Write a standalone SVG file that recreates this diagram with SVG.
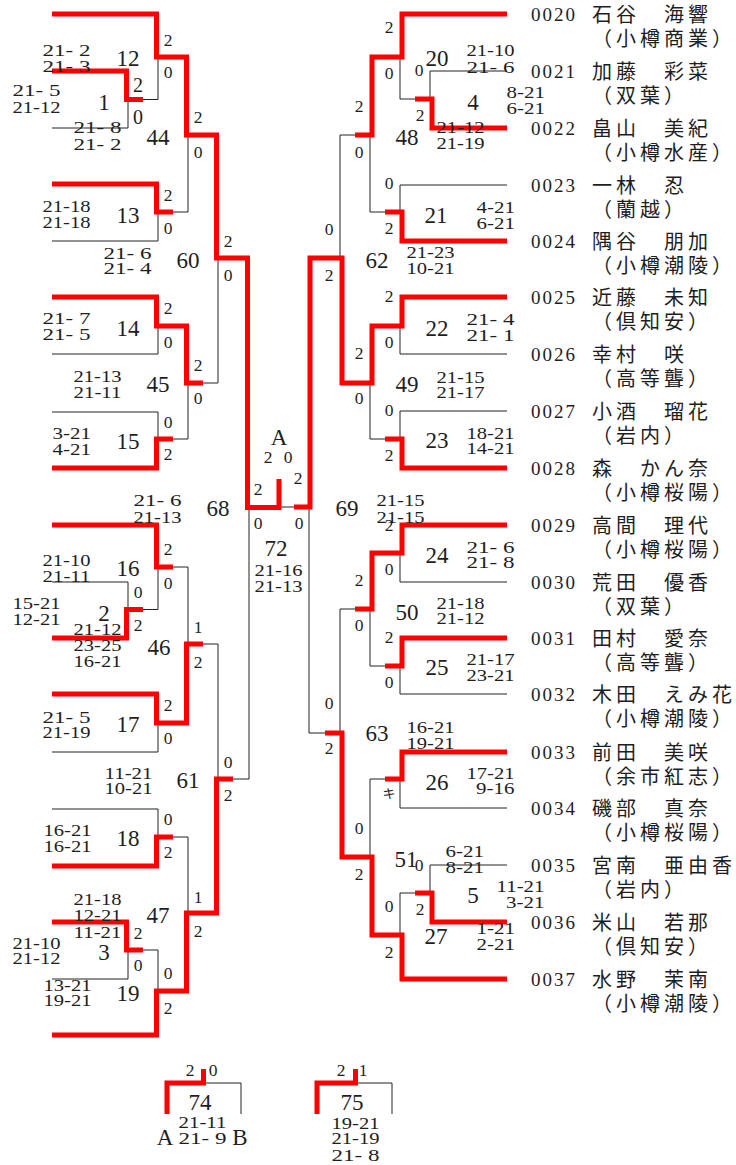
<svg xmlns="http://www.w3.org/2000/svg" width="736" height="1165" viewBox="0 0 736 1165">
<style>
.r{fill:none;stroke:#ff0000;stroke-width:5;stroke-linejoin:miter;stroke-linecap:butt}
.t{fill:none;stroke:#222;stroke-width:1}
text{fill:#1e1e1e}
.s{font-family:"Liberation Serif",serif;font-size:17.5px}
.c{text-anchor:middle}
.b{font-family:"Liberation Serif",serif;font-size:23px;text-anchor:middle}
.m{font-family:"Liberation Serif",serif;font-size:20px;text-anchor:middle}
.id{font-family:"Liberation Serif",serif;font-size:19px;letter-spacing:2px}
.j{font-family:"Noto Sans CJK JP",sans-serif;font-size:20px;letter-spacing:4px}
.k{font-family:"Noto Sans CJK JP",sans-serif;font-size:13px;text-anchor:middle}
</style>
<rect width="736" height="1165" fill="#fff"/>
<g id="connectors">
<path class="t" d="M52,128 H128 V99.5 M143,99.5 H158 V57 M52,241 H158 V212 M173,212 H188 V135 M52,354 H158 V326 M203,383 H218 V258 M52,412 H158 V439 M173,439 H188 V383 M233,779 H249 V507.5 M173,567 H188 V644 M158,567 V609.5 H143 M52,582 H128 V609.5 M203,644 H218 V779 M52,752 H158 V723 M52,809 H158 V837 M173,837 H188 V913 M52,979 H128 V950 M143,950 H158 V991"/>
<path class="t" d="M400,57 V99 H415 M507,71 H430 V99 M355,135 H340 V258 M507,185 H400 V212 M385,212 H370 V135 M507,354 H400 V326 M507,411 H400 V439 M385,439 H370 V383 M294,507 H280 M309,507 V733 H325 M507,582 H400 V553 M355,609 H340 V733 M385,666 H370 V609 M507,694 H400 V666 M507,808 H400 V779 M385,779 H370 V857 M507,865 H430 V893 M415,893 H400 V935"/>
<path class="t" d="M203.5,1083 H241 V1114 M355.5,1083 H392 V1114"/>
<path class="r" d="M52,14 H156.5 V57 H186.5 V135 H216.5 V258 H247.5 V507.5 H279 V479"/>
<path class="r" d="M52,71 H126.5 V99.5 H143"/>
<path class="r" d="M52,184 H156.5 V212 H173"/>
<path class="r" d="M52,297 H156.5 V326 H186.5 V383 H203"/>
<path class="r" d="M52,468 H156.5 V439 H173"/>
<path class="r" d="M52,525 H156.5 V567 H173"/>
<path class="r" d="M52,638 H126.5 V609.5 H143"/>
<path class="r" d="M203,644 H186.5 V723 H156.5 V694 H52"/>
<path class="r" d="M52,1035 H156.5 V991 H186.5 V913 H216.5 V779 H233"/>
<path class="r" d="M52,866 H156.5 V837 H173"/>
<path class="r" d="M52,922 H126.5 V950 H143"/>
<path class="r" d="M507,14 H402 V57 H372 V135 H355"/>
<path class="r" d="M507,128 H432 V99 H415"/>
<path class="r" d="M507,241 H402 V212 H385"/>
<path class="r" d="M507,297 H402 V326 H372 V383 H342 V258 H310 V507 H294"/>
<path class="r" d="M507,468 H402 V439 H385"/>
<path class="r" d="M507,525 H402 V553 H372 V609 H355"/>
<path class="r" d="M507,638 H402 V666 H385"/>
<path class="r" d="M507,752 H402 V779 H385"/>
<path class="r" d="M507,922 H432 V893 H415"/>
<path class="r" d="M507,979 H402 V935 H372 V857 H342 V733 H325"/>
<path class="r" d="M167,1114 V1083 H203.5 V1069"/>
<path class="r" d="M317,1114 V1083 H355.5 V1069"/>
</g>

<g id="m12"><text class="b" x="128" y="66">12</text><text class="s c" x="168" y="46">2</text><text class="s c" x="168" y="78">0</text><text class="s" x="42.5" y="56" textLength="48" lengthAdjust="spacingAndGlyphs">21- 2</text><text class="s" x="42.5" y="72" textLength="48" lengthAdjust="spacingAndGlyphs">21- 3</text></g>
<g id="m1"><text class="b" x="104" y="110">1</text><text class="m" x="138" y="92">2</text><text class="m" x="138" y="124">0</text><text class="s" x="12.5" y="96" textLength="48" lengthAdjust="spacingAndGlyphs">21- 5</text><text class="s" x="12.5" y="113" textLength="48" lengthAdjust="spacingAndGlyphs">21-12</text></g>
<g id="m44"><text class="b" x="158" y="145">44</text><text class="s c" x="198" y="123">2</text><text class="s c" x="198" y="158">0</text><text class="s" x="73.5" y="133" textLength="48" lengthAdjust="spacingAndGlyphs">21- 8</text><text class="s" x="73.5" y="150" textLength="48" lengthAdjust="spacingAndGlyphs">21- 2</text></g>
<g id="m13"><text class="b" x="128" y="223">13</text><text class="s c" x="168" y="201">2</text><text class="s c" x="168" y="234">0</text><text class="s" x="42.5" y="212" textLength="48" lengthAdjust="spacingAndGlyphs">21-18</text><text class="s" x="42.5" y="228" textLength="48" lengthAdjust="spacingAndGlyphs">21-18</text></g>
<g id="m60"><text class="b" x="188" y="268">60</text><text class="s c" x="228" y="247">2</text><text class="s c" x="228" y="281">0</text><text class="s" x="103.5" y="259" textLength="48" lengthAdjust="spacingAndGlyphs">21- 6</text><text class="s" x="103.5" y="274" textLength="48" lengthAdjust="spacingAndGlyphs">21- 4</text></g>
<g id="m14"><text class="b" x="128" y="336">14</text><text class="s c" x="168" y="314">2</text><text class="s c" x="168" y="348">0</text><text class="s" x="42.5" y="324" textLength="48" lengthAdjust="spacingAndGlyphs">21- 7</text><text class="s" x="42.5" y="340" textLength="48" lengthAdjust="spacingAndGlyphs">21- 5</text></g>
<g id="m45"><text class="b" x="158" y="392">45</text><text class="s c" x="198" y="371">2</text><text class="s c" x="198" y="404">0</text><text class="s" x="73.5" y="382" textLength="48" lengthAdjust="spacingAndGlyphs">21-13</text><text class="s" x="73.5" y="398" textLength="48" lengthAdjust="spacingAndGlyphs">21-11</text></g>
<g id="m15"><text class="b" x="128" y="449">15</text><text class="s c" x="168" y="428">0</text><text class="s c" x="168" y="460">2</text><text class="s" x="52.5" y="439" textLength="38.4" lengthAdjust="spacingAndGlyphs">3-21</text><text class="s" x="52.5" y="455" textLength="38.4" lengthAdjust="spacingAndGlyphs">4-21</text></g>
<g id="m68"><text class="b" x="218" y="516">68</text><text class="s c" x="258" y="495">2</text><text class="s c" x="258" y="529">0</text><text class="s" x="133.5" y="506" textLength="48" lengthAdjust="spacingAndGlyphs">21- 6</text><text class="s" x="133.5" y="523" textLength="48" lengthAdjust="spacingAndGlyphs">21-13</text></g>
<g id="m16"><text class="b" x="128" y="576">16</text><text class="s c" x="168" y="555">2</text><text class="s c" x="168" y="589">0</text><text class="s" x="42.5" y="566" textLength="48" lengthAdjust="spacingAndGlyphs">21-10</text><text class="s" x="42.5" y="582" textLength="48" lengthAdjust="spacingAndGlyphs">21-11</text></g>
<g id="m2"><text class="b" x="104" y="621">2</text><text class="s c" x="138" y="598">0</text><text class="s c" x="138" y="631">2</text><text class="s" x="12.5" y="609" textLength="48" lengthAdjust="spacingAndGlyphs">15-21</text><text class="s" x="12.5" y="625" textLength="48" lengthAdjust="spacingAndGlyphs">12-21</text></g>
<g id="m46"><text class="b" x="159" y="655">46</text><text class="s c" x="198" y="633">1</text><text class="s c" x="198" y="668">2</text><text class="s" x="73.5" y="635" textLength="48" lengthAdjust="spacingAndGlyphs">21-12</text><text class="s" x="73.5" y="651" textLength="48" lengthAdjust="spacingAndGlyphs">23-25</text><text class="s" x="73.5" y="667" textLength="48" lengthAdjust="spacingAndGlyphs">16-21</text></g>
<g id="m17"><text class="b" x="128" y="732">17</text><text class="s c" x="168" y="711">2</text><text class="s c" x="168" y="744">0</text><text class="s" x="42.5" y="723" textLength="48" lengthAdjust="spacingAndGlyphs">21- 5</text><text class="s" x="42.5" y="738" textLength="48" lengthAdjust="spacingAndGlyphs">21-19</text></g>
<g id="m61"><text class="b" x="188" y="788">61</text><text class="s c" x="228" y="768">0</text><text class="s c" x="228" y="801">2</text><text class="s" x="104.5" y="779" textLength="48" lengthAdjust="spacingAndGlyphs">11-21</text><text class="s" x="104.5" y="794" textLength="48" lengthAdjust="spacingAndGlyphs">10-21</text></g>
<g id="m18"><text class="b" x="128" y="846">18</text><text class="s c" x="168" y="825">0</text><text class="s c" x="168" y="858">2</text><text class="s" x="43.5" y="836" textLength="48" lengthAdjust="spacingAndGlyphs">16-21</text><text class="s" x="43.5" y="852" textLength="48" lengthAdjust="spacingAndGlyphs">16-21</text></g>
<g id="m47"><text class="b" x="158" y="923">47</text><text class="s c" x="198" y="903">1</text><text class="s c" x="198" y="937">2</text><text class="s" x="73.5" y="905" textLength="48" lengthAdjust="spacingAndGlyphs">21-18</text><text class="s" x="73.5" y="921" textLength="48" lengthAdjust="spacingAndGlyphs">12-21</text><text class="s" x="73.5" y="938" textLength="48" lengthAdjust="spacingAndGlyphs">11-21</text></g>
<g id="m3"><text class="b" x="104" y="960">3</text><text class="s c" x="138" y="939">2</text><text class="s c" x="138" y="971">0</text><text class="s" x="12.5" y="949" textLength="48" lengthAdjust="spacingAndGlyphs">21-10</text><text class="s" x="12.5" y="964" textLength="48" lengthAdjust="spacingAndGlyphs">21-12</text></g>
<g id="m19"><text class="b" x="128" y="1001">19</text><text class="s c" x="168" y="979">0</text><text class="s c" x="168" y="1014">2</text><text class="s" x="43.5" y="991" textLength="48" lengthAdjust="spacingAndGlyphs">13-21</text><text class="s" x="43.5" y="1006" textLength="48" lengthAdjust="spacingAndGlyphs">19-21</text></g>

<g id="m72"><text class="b" x="279" y="445">A</text><text class="s c" x="268" y="463">2</text><text class="s c" x="288" y="463">0</text><text class="b" x="276" y="556">72</text><text class="s" x="254.5" y="576" textLength="48" lengthAdjust="spacingAndGlyphs">21-16</text><text class="s" x="254.5" y="592" textLength="48" lengthAdjust="spacingAndGlyphs">21-13</text></g>

<g id="m20"><text class="b" x="437" y="66">20</text><text class="s c" x="389" y="33">2</text><text class="s c" x="389" y="79">0</text><text class="s" x="466.5" y="56" textLength="48" lengthAdjust="spacingAndGlyphs">21-10</text><text class="s" x="466.5" y="73" textLength="48" lengthAdjust="spacingAndGlyphs">21- 6</text></g>
<g id="m4"><text class="b" x="473" y="110">4</text><text class="s c" x="419" y="76">0</text><text class="s c" x="420" y="121">2</text><text class="s" x="506.5" y="98" textLength="38.4" lengthAdjust="spacingAndGlyphs">8-21</text><text class="s" x="506.5" y="114" textLength="38.4" lengthAdjust="spacingAndGlyphs">6-21</text></g>
<g id="m48"><text class="b" x="407" y="145">48</text><text class="s c" x="359" y="112">2</text><text class="s c" x="359" y="158">0</text><text class="s" x="436.5" y="133" textLength="48" lengthAdjust="spacingAndGlyphs">21-12</text><text class="s" x="436.5" y="149" textLength="48" lengthAdjust="spacingAndGlyphs">21-19</text></g>
<g id="m21"><text class="b" x="436" y="223">21</text><text class="s c" x="389" y="189">0</text><text class="s c" x="389" y="234">2</text><text class="s" x="476.5" y="213" textLength="38.4" lengthAdjust="spacingAndGlyphs">4-21</text><text class="s" x="476.5" y="229" textLength="38.4" lengthAdjust="spacingAndGlyphs">6-21</text></g>
<g id="m62"><text class="b" x="377" y="268">62</text><text class="s c" x="329" y="235">0</text><text class="s c" x="329" y="281">2</text><text class="s" x="406.5" y="258" textLength="48" lengthAdjust="spacingAndGlyphs">21-23</text><text class="s" x="406.5" y="274" textLength="48" lengthAdjust="spacingAndGlyphs">10-21</text></g>
<g id="m22"><text class="b" x="437" y="336">22</text><text class="s c" x="389" y="302">2</text><text class="s c" x="389" y="348">0</text><text class="s" x="466.5" y="325" textLength="48" lengthAdjust="spacingAndGlyphs">21- 4</text><text class="s" x="466.5" y="341" textLength="48" lengthAdjust="spacingAndGlyphs">21- 1</text></g>
<g id="m49"><text class="b" x="407" y="392">49</text><text class="s c" x="359" y="359">2</text><text class="s c" x="359" y="404">0</text><text class="s" x="436.5" y="383" textLength="48" lengthAdjust="spacingAndGlyphs">21-15</text><text class="s" x="436.5" y="398" textLength="48" lengthAdjust="spacingAndGlyphs">21-17</text></g>
<g id="m23"><text class="b" x="437" y="448">23</text><text class="s c" x="389" y="416">0</text><text class="s c" x="389" y="461">2</text><text class="s" x="466.5" y="439" textLength="48" lengthAdjust="spacingAndGlyphs">18-21</text><text class="s" x="466.5" y="454" textLength="48" lengthAdjust="spacingAndGlyphs">14-21</text></g>
<g id="m69"><text class="b" x="347" y="516">69</text><text class="s c" x="298" y="484">2</text><text class="s c" x="299" y="529">0</text><text class="s" x="376.5" y="506" textLength="48" lengthAdjust="spacingAndGlyphs">21-15</text><text class="s" x="376.5" y="523" textLength="48" lengthAdjust="spacingAndGlyphs">21-15</text></g>
<g id="m24"><text class="b" x="437" y="563">24</text><text class="s c" x="389" y="531">2</text><text class="s c" x="389" y="575">0</text><text class="s" x="466.5" y="553" textLength="48" lengthAdjust="spacingAndGlyphs">21- 6</text><text class="s" x="466.5" y="568" textLength="48" lengthAdjust="spacingAndGlyphs">21- 8</text></g>
<g id="m50"><text class="b" x="407" y="620">50</text><text class="s c" x="359" y="586">2</text><text class="s c" x="359" y="631">0</text><text class="s" x="436.5" y="609" textLength="48" lengthAdjust="spacingAndGlyphs">21-18</text><text class="s" x="436.5" y="624" textLength="48" lengthAdjust="spacingAndGlyphs">21-12</text></g>
<g id="m25"><text class="b" x="437" y="675">25</text><text class="s c" x="389" y="643">2</text><text class="s c" x="389" y="688">0</text><text class="s" x="466.5" y="665" textLength="48" lengthAdjust="spacingAndGlyphs">21-17</text><text class="s" x="466.5" y="681" textLength="48" lengthAdjust="spacingAndGlyphs">23-21</text></g>
<g id="m63"><text class="b" x="377" y="741">63</text><text class="s c" x="329" y="709">0</text><text class="s c" x="329" y="754">2</text><text class="s" x="406.5" y="733" textLength="48" lengthAdjust="spacingAndGlyphs">16-21</text><text class="s" x="406.5" y="749" textLength="48" lengthAdjust="spacingAndGlyphs">19-21</text></g>
<g id="m26"><text class="b" x="437" y="790">26</text><text class="k" x="389" y="798">キ</text><text class="s" x="466.5" y="779" textLength="48" lengthAdjust="spacingAndGlyphs">17-21</text><text class="s" x="476.1" y="794" textLength="38.4" lengthAdjust="spacingAndGlyphs">9-16</text></g>
<g id="m51"><text class="b" x="406" y="867">51</text><text class="s c" x="359" y="834">0</text><text class="s c" x="359" y="880">2</text><text class="s" x="445.5" y="857" textLength="38.4" lengthAdjust="spacingAndGlyphs">6-21</text><text class="s" x="445.5" y="873" textLength="38.4" lengthAdjust="spacingAndGlyphs">8-21</text></g>
<g id="m5"><text class="b" x="473" y="903">5</text><text class="s c" x="419" y="871">0</text><text class="s c" x="420" y="915">2</text><text class="s" x="496.5" y="892" textLength="48" lengthAdjust="spacingAndGlyphs">11-21</text><text class="s" x="506.1" y="908" textLength="38.4" lengthAdjust="spacingAndGlyphs">3-21</text></g>
<g id="m27"><text class="b" x="436" y="944">27</text><text class="s c" x="389" y="912">0</text><text class="s c" x="389" y="958">2</text><text class="s" x="476.5" y="934" textLength="38.4" lengthAdjust="spacingAndGlyphs">1-21</text><text class="s" x="476.5" y="950" textLength="38.4" lengthAdjust="spacingAndGlyphs">2-21</text></g>

<g id="m74"><text class="b" x="200" y="1110">74</text><text class="s c" x="190" y="1076">2</text><text class="s c" x="213" y="1076">0</text><text class="s" x="178.5" y="1128" textLength="48" lengthAdjust="spacingAndGlyphs">21-11</text><text class="s" x="178.5" y="1144" textLength="48" lengthAdjust="spacingAndGlyphs">21- 9</text><text class="b" x="165" y="1145">A</text><text class="b" x="240" y="1145">B</text></g>
<g id="m75"><text class="b" x="352" y="1110">75</text><text class="s c" x="341" y="1076">2</text><text class="s c" x="363" y="1076">1</text><text class="s" x="331.5" y="1129" textLength="48" lengthAdjust="spacingAndGlyphs">19-21</text><text class="s" x="331.5" y="1144" textLength="48" lengthAdjust="spacingAndGlyphs">21-19</text><text class="s" x="331.5" y="1161" textLength="48" lengthAdjust="spacingAndGlyphs">21- 8</text></g>

<g id="p0020"><text class="id" x="531" y="21">0020</text><text class="j" x="592" y="22">石谷　海響</text><text class="j" x="592" y="46">（小樽商業）</text></g>
<g id="p0021"><text class="id" x="531" y="78">0021</text><text class="j" x="592" y="79">加藤　彩菜</text><text class="j" x="592" y="103">（双葉）</text></g>
<g id="p0022"><text class="id" x="531" y="135">0022</text><text class="j" x="592" y="136">畠山　美紀</text><text class="j" x="592" y="160">（小樽水産）</text></g>
<g id="p0023"><text class="id" x="531" y="192">0023</text><text class="j" x="592" y="193">一林　忍</text><text class="j" x="592" y="217">（蘭越）</text></g>
<g id="p0024"><text class="id" x="531" y="248">0024</text><text class="j" x="592" y="249">隅谷　朋加</text><text class="j" x="592" y="273">（小樽潮陵）</text></g>
<g id="p0025"><text class="id" x="531" y="304">0025</text><text class="j" x="592" y="305">近藤　未知</text><text class="j" x="592" y="329">（倶知安）</text></g>
<g id="p0026"><text class="id" x="531" y="361">0026</text><text class="j" x="592" y="362">幸村　咲</text><text class="j" x="592" y="386">（高等聾）</text></g>
<g id="p0027"><text class="id" x="531" y="418">0027</text><text class="j" x="592" y="419">小酒　瑠花</text><text class="j" x="592" y="443">（岩内）</text></g>
<g id="p0028"><text class="id" x="531" y="475">0028</text><text class="j" x="592" y="476">森　かん奈</text><text class="j" x="592" y="500">（小樽桜陽）</text></g>
<g id="p0029"><text class="id" x="531" y="532">0029</text><text class="j" x="592" y="533">高間　理代</text><text class="j" x="592" y="557">（小樽桜陽）</text></g>
<g id="p0030"><text class="id" x="531" y="589">0030</text><text class="j" x="592" y="590">荒田　優香</text><text class="j" x="592" y="614">（双葉）</text></g>
<g id="p0031"><text class="id" x="531" y="645">0031</text><text class="j" x="592" y="646">田村　愛奈</text><text class="j" x="592" y="670">（高等聾）</text></g>
<g id="p0032"><text class="id" x="531" y="701">0032</text><text class="j" x="592" y="702">木田　えみ花</text><text class="j" x="592" y="726">（小樽潮陵）</text></g>
<g id="p0033"><text class="id" x="531" y="759">0033</text><text class="j" x="592" y="760">前田　美咲</text><text class="j" x="592" y="784">（余市紅志）</text></g>
<g id="p0034"><text class="id" x="531" y="815">0034</text><text class="j" x="592" y="816">磯部　真奈</text><text class="j" x="592" y="840">（小樽桜陽）</text></g>
<g id="p0035"><text class="id" x="531" y="872">0035</text><text class="j" x="592" y="873">宮南　亜由香</text><text class="j" x="592" y="897">（岩内）</text></g>
<g id="p0036"><text class="id" x="531" y="929">0036</text><text class="j" x="592" y="930">米山　若那</text><text class="j" x="592" y="954">（倶知安）</text></g>
<g id="p0037"><text class="id" x="531" y="986">0037</text><text class="j" x="592" y="987">水野　茉南</text><text class="j" x="592" y="1011">（小樽潮陵）</text></g>
</svg>
